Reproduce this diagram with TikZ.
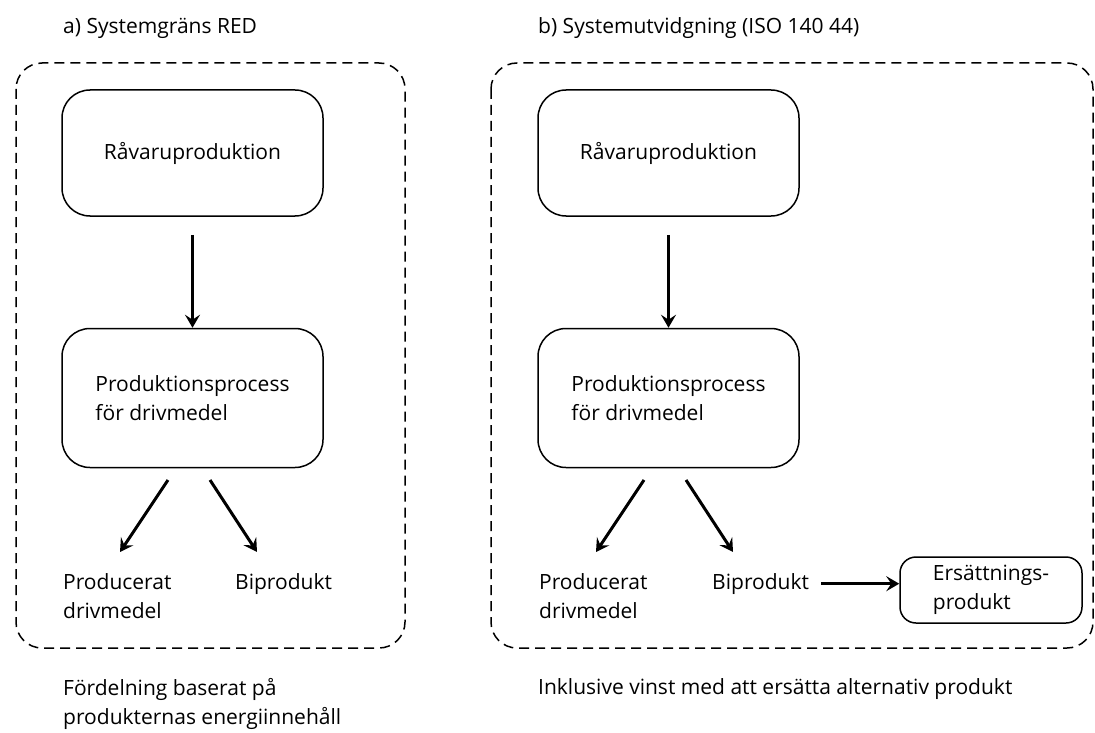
\documentclass[tikz,border=0pt]{standalone}
\usepackage{fontspec}
\setmainfont{Open Sans}
\usetikzlibrary{positioning, arrows.meta}

\begin{document}
\begin{tikzpicture}[x=1pt, y=-1pt,
    frame/.style = {draw, line width=1.5pt, dash pattern=on 10pt off 6pt,
      rounded corners=26pt},
    proc/.style = {rectangle, draw, line width=1.5pt, rounded corners=28pt,
      minimum width=261pt, font=\fontsize{21}{29}\selectfont},
    lbl/.style = {inner sep=0pt, align=left, font=\fontsize{21}{29}\selectfont},
    arr/.style = {-{Stealth[length=13pt, width=15pt, inset=5pt]},
      line width=3pt},
  ]
\useasboundingbox (0,0) rectangle (1095,733);

% frames
\draw[frame] (16,63) rectangle (405,648);
\draw[frame] (491,63) rectangle (1093,648);

% a) left part
\node[lbl, anchor=west] (titA) at (63,28) {a) Systemgräns RED};
\node[proc, minimum height=126pt] (rawA) at (192.5,153) {Råvaruproduktion};
\node[proc, minimum height=139pt, align=left] (procA) at (192.5,398)
    {Produktionsprocess\\för drivmedel};
\node[lbl, anchor=north west] (fuelA) at (63,573) {Producerat\\drivmedel};
\node[lbl, anchor=north west] (bipA) at (235,573) {Biprodukt};
\node[lbl, anchor=north west] (notA) at (63,678)
    {Fördelning baserat på\\produkternas energiinnehåll};

\draw[arr] (rawA.south) ++(0,18) -- (procA.north);
\draw[arr] (168,480) -- (120,552);
\draw[arr] (210,480) -- (257,552);

% b) right part
\node[lbl, anchor=west] (titB) at (538,28) {b) Systemutvidgning (ISO 140 44)};
\node[proc, minimum height=126pt] (rawB) at (668.5,153) {Råvaruproduktion};
\node[proc, minimum height=139pt, align=left] (procB) at (668.5,398)
    {Produktionsprocess\\för drivmedel};
\node[lbl, anchor=north west] (fuelB) at (539,573) {Producerat\\drivmedel};
\node[lbl, anchor=north west] (bipB) at (712,573) {Biprodukt};
\node[proc, minimum width=182pt, minimum height=66pt, rounded corners=16pt,
    align=left] (ers) at (991,590) {Ersättnings-\\produkt};
\node[lbl, anchor=north west] (notB) at (538,678)
    {Inklusive vinst med att ersätta alternativ produkt};

\draw[arr] (rawB.south) ++(0,18) -- (procB.north);
\draw[arr] (644,480) -- (596,552);
\draw[arr] (686,480) -- (733,552);
\draw[arr] ([xshift=12pt]bipB.east) -- (ers.west |- bipB.east);
\end{tikzpicture}
\end{document}
